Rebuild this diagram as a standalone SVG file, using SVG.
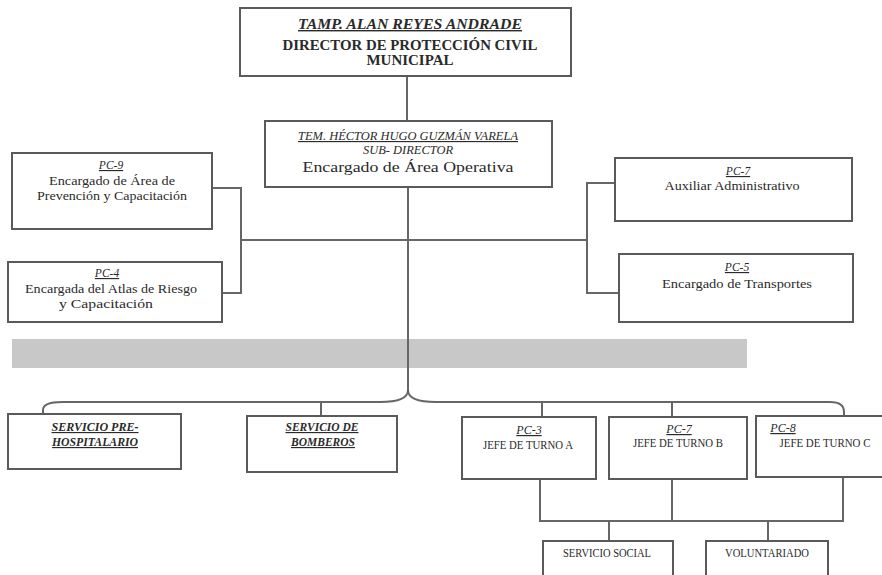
<svg xmlns="http://www.w3.org/2000/svg" width="882" height="575" viewBox="0 0 882 575">
<style>
.box{fill:#fff;stroke:#5a5a5a;stroke-width:2}
.ln{fill:none;stroke:#666;stroke-width:2}
text{font-family:"Liberation Serif","DejaVu Serif",serif;fill:#2a2a2a;text-anchor:middle}
.u{text-decoration:underline}
.i{font-style:italic}
.b{font-weight:bold}
.s11{font-size:11.5px}
.s12{font-size:12px}
</style>
<rect width="882" height="575" fill="#fff"/>
<rect x="12" y="339" width="735" height="29" fill="#c8c8c8"/>
<g id="connectors">
<path class="ln" d="M407 76V120"/>
<path class="ln" d="M408 187V392"/>
<path class="ln" d="M241 240H588"/>
<path class="ln" d="M212 188H241V293H222"/>
<path class="ln" d="M615 183H587V293H619"/>
<path class="ln" d="M408 390Q408 402 380 402H62Q43 402 43 410V414"/>
<path class="ln" d="M408 390Q408 402 436 402H830Q844 402 844 412V416"/>
<path class="ln" d="M321 402V416"/>
<path class="ln" d="M542 402V417"/>
<path class="ln" d="M672 402V417"/>
<path class="ln" d="M540 479V521H843V477"/>
<path class="ln" d="M672 479V521"/>
<path class="ln" d="M609 521V541"/>
<path class="ln" d="M768 521V541"/>
</g>
<g id="director">
<rect class="box" x="240" y="8" width="331" height="68"/>
<text class="b i u" x="410" y="29" font-size="14" textLength="224" lengthAdjust="spacingAndGlyphs">TAMP. ALAN REYES ANDRADE</text>
<text class="b" x="410" y="50" font-size="14" textLength="255" lengthAdjust="spacingAndGlyphs">DIRECTOR DE PROTECCIÓN CIVIL</text>
<text class="b" x="410" y="65" font-size="14" textLength="87" lengthAdjust="spacingAndGlyphs">MUNICIPAL</text>
</g>
<g id="subdirector">
<rect class="box" x="265" y="121" width="287" height="66"/>
<text class="i u" x="408" y="140" font-size="11.5" textLength="220" lengthAdjust="spacingAndGlyphs">TEM. HÉCTOR HUGO GUZMÁN VARELA</text>
<text class="i" x="408" y="154" font-size="11.5" textLength="90" lengthAdjust="spacingAndGlyphs">SUB- DIRECTOR</text>
<text x="408" y="172" font-size="15.5" textLength="211" lengthAdjust="spacingAndGlyphs">Encargado de Área Operativa</text>
</g>
<g id="pc9">
<rect class="box" x="12" y="153" width="200" height="76"/>
<text class="i u s11" x="111" y="169">PC-9</text>
<text class="s11" x="112" y="185" textLength="126" lengthAdjust="spacingAndGlyphs">Encargado de Área de</text>
<text class="s11" x="112" y="200" textLength="150" lengthAdjust="spacingAndGlyphs">Prevención y Capacitación</text>
</g>
<g id="pc4">
<rect class="box" x="8" y="262" width="214" height="60"/>
<text class="i u s11" x="107" y="277">PC-4</text>
<text class="s11" x="111" y="293" textLength="172" lengthAdjust="spacingAndGlyphs">Encargada del Atlas de Riesgo</text>
<text class="s11" x="106" y="308" textLength="94" lengthAdjust="spacingAndGlyphs">y Capacitación</text>
</g>
<g id="pc7a">
<rect class="box" x="615" y="158" width="237" height="63"/>
<text class="i u s11" x="738" y="175">PC-7</text>
<text class="s11" x="732" y="190" textLength="135" lengthAdjust="spacingAndGlyphs">Auxiliar Administrativo</text>
</g>
<g id="pc5">
<rect class="box" x="619" y="254" width="234" height="68"/>
<text class="i u s11" x="737" y="271">PC-5</text>
<text class="s11" x="737" y="288" textLength="150" lengthAdjust="spacingAndGlyphs">Encargado de Transportes</text>
</g>
<g id="prehospitalario">
<rect class="box" x="8" y="414" width="173" height="55"/>
<text class="b i u s11" x="95" y="431" textLength="87" lengthAdjust="spacingAndGlyphs">SERVICIO PRE-</text>
<text class="b i u s11" x="95" y="446" textLength="86" lengthAdjust="spacingAndGlyphs">HOSPITALARIO</text>
</g>
<g id="bomberos">
<rect class="box" x="247" y="416" width="150" height="56"/>
<text class="b i u s11" x="322" y="431" textLength="73" lengthAdjust="spacingAndGlyphs">SERVICIO DE</text>
<text class="b i u s11" x="323" y="446" textLength="64" lengthAdjust="spacingAndGlyphs">BOMBEROS</text>
</g>
<g id="turnoA">
<rect class="box" x="462" y="417" width="134" height="62"/>
<text class="i u s12" x="529" y="434">PC-3</text>
<text class="s11" x="528" y="449" textLength="90" lengthAdjust="spacingAndGlyphs">JEFE DE TURNO A</text>
</g>
<g id="turnoB">
<rect class="box" x="609" y="417" width="138" height="62"/>
<text class="i u s12" x="679" y="433">PC-7</text>
<text class="s11" x="678" y="447" textLength="90" lengthAdjust="spacingAndGlyphs">JEFE DE TURNO B</text>
</g>
<g id="turnoC">
<rect class="box" x="756" y="416" width="140" height="61"/>
<text class="i u s12" x="783" y="432">PC-8</text>
<text class="s11" x="825" y="447" textLength="91" lengthAdjust="spacingAndGlyphs">JEFE DE TURNO C</text>
</g>
<g id="serviciosocial">
<rect class="box" x="543" y="541" width="130" height="45"/>
<text class="s11" x="607" y="557" textLength="88" lengthAdjust="spacingAndGlyphs">SERVICIO SOCIAL</text>
</g>
<g id="voluntariado">
<rect class="box" x="706" y="541" width="122" height="45"/>
<text class="s11" x="767" y="557" textLength="84" lengthAdjust="spacingAndGlyphs">VOLUNTARIADO</text>
</g>
</svg>
